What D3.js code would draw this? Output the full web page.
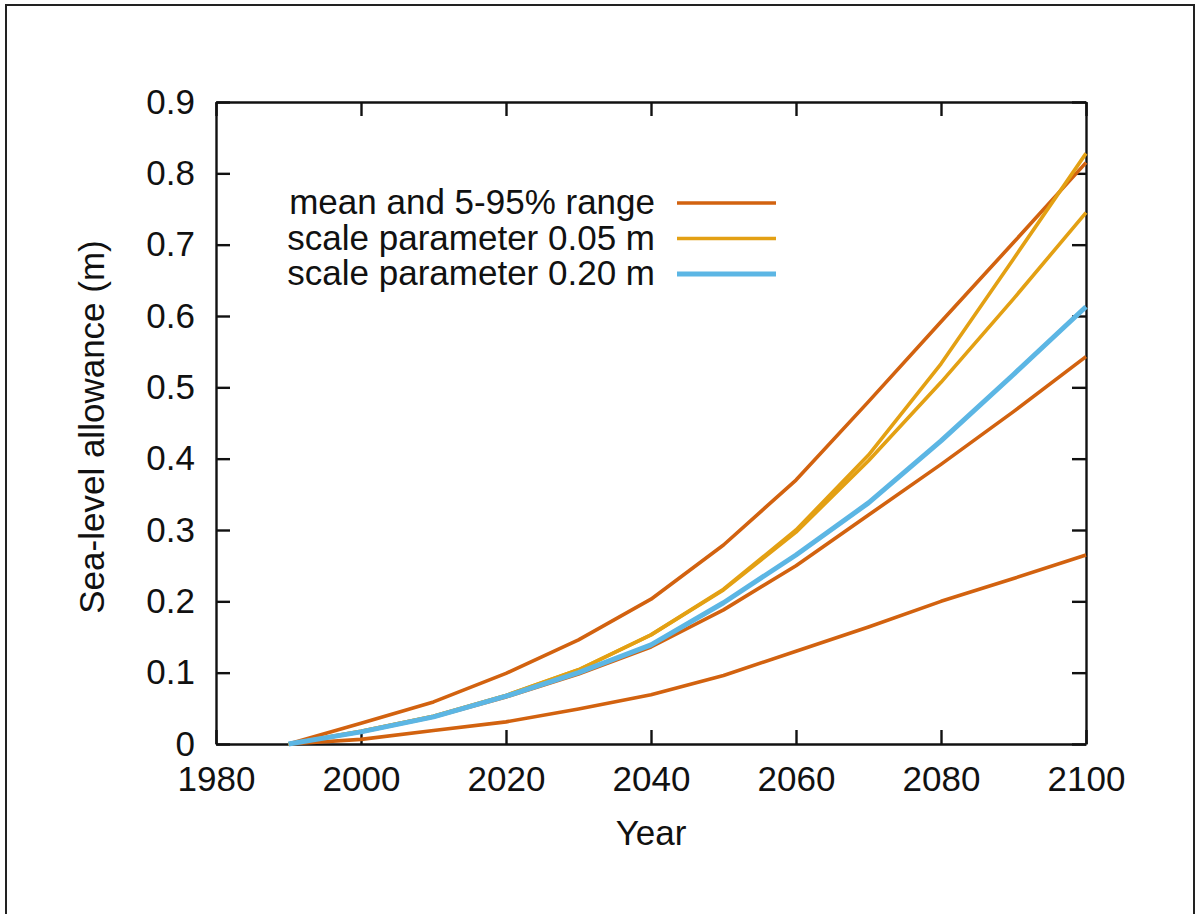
<!DOCTYPE html>
<html>
<head>
<meta charset="utf-8">
<script src="https://cdn.jsdelivr.net/npm/d3@7"></script>
<style>
  body { margin: 0; background: #fff; overflow: hidden; }
  svg text { font-family: "Liberation Sans", Arial, Helvetica, sans-serif; fill: #111; }
</style>
</head>
<body>
<div id="chart"></div>
<script>
// Years of the projections (decadal steps)
let years = [1990, 2000, 2010, 2020, 2030, 2040, 2050, 2060, 2070, 2080, 2090, 2100];

// mean and 5-95% range (m)
let meanVals  = [0, 0.017, 0.038, 0.066, 0.098, 0.136, 0.188, 0.250, 0.321, 0.392, 0.466, 0.543];
let upperVals = [0, 0.029, 0.059, 0.099, 0.146, 0.203, 0.279, 0.370, 0.480, 0.592, 0.703, 0.815];
let lowerVals = [0, 0.0065, 0.019, 0.031, 0.049, 0.069, 0.096, 0.130, 0.164, 0.200, 0.232, 0.265];

// scale parameter 0.05 m (two curves)
let scale005High = [0, 0.018, 0.039, 0.068, 0.104, 0.153, 0.217, 0.300, 0.405, 0.533, 0.680, 0.828];
let scale005Low  = [0, 0.018, 0.039, 0.068, 0.104, 0.153, 0.216, 0.297, 0.397, 0.507, 0.624, 0.745];

// scale parameter 0.20 m
let scale020 = [0, 0.017, 0.038, 0.067, 0.100, 0.139, 0.198, 0.265, 0.338, 0.425, 0.518, 0.613];

// Axis ticks
let xTicks = [1980, 2000, 2020, 2040, 2060, 2080, 2100];
let yTicks = [0, 0.1, 0.2, 0.3, 0.4, 0.5, 0.6, 0.7, 0.8, 0.9];

let legendLabels = ["mean and 5-95% range", "scale parameter 0.05 m", "scale parameter 0.20 m"];

const WIDTH = 1197, HEIGHT = 914;
const margin = {left: 216, top: 102, right: 111, bottom: 170};
const plotW = WIDTH - margin.left - margin.right;
const plotH = HEIGHT - margin.top - margin.bottom;

const ORANGE = "#d2620f", YELLOW = "#e3a013", BLUE = "#5cb6e4";

let svg = d3.select("#chart")
    .append("svg")
    .attr("width", WIDTH)
    .attr("height", HEIGHT);

// Outer frame of the figure (bottom edge runs off the picture)
svg.append("rect")
    .attr("x", 6).attr("y", 5)
    .attr("width", 1188).attr("height", 920)
    .attr("fill", "none")
    .attr("stroke", "#222")
    .attr("stroke-width", 2);

let g = svg.append("g")
    .attr("transform", `translate(${margin.left}, ${margin.top})`);

let x = d3.scaleLinear().domain([1980, 2100]).range([0, plotW]);
let y = d3.scaleLinear().domain([0, 0.9]).range([plotH, 0]);

const TICK = 14;

// Axes with inward ticks on all four sides
let xAxis = g.append("g")
    .attr("transform", `translate(0, ${plotH})`)
    .call(d3.axisBottom(x).tickValues(xTicks).tickFormat(d3.format("d"))
        .tickSizeInner(-TICK).tickSizeOuter(0).tickPadding(22));
let xAxisTop = g.append("g")
    .call(d3.axisTop(x).tickValues(xTicks).tickFormat("")
        .tickSizeInner(-TICK).tickSizeOuter(0));
let yAxis = g.append("g")
    .call(d3.axisLeft(y).tickValues(yTicks)
        .tickFormat(function(d) { return d === 0 ? "0" : d.toFixed(1); })
        .tickSizeInner(-TICK).tickSizeOuter(0).tickPadding(21));
let yAxisRight = g.append("g")
    .attr("transform", `translate(${plotW}, 0)`)
    .call(d3.axisRight(y).tickValues(yTicks).tickFormat("")
        .tickSizeInner(-TICK).tickSizeOuter(0));

[xAxis, xAxisTop, yAxis, yAxisRight].forEach(function(a) {
    a.select(".domain").attr("stroke", "#111").attr("stroke-width", 2.4);
    a.selectAll(".tick line").attr("stroke", "#111").attr("stroke-width", 2.4);
    a.selectAll(".tick text").style("font-size", "35px").attr("fill", "#111");
});

// Lines
let line = d3.line()
    .x(function(d, i) { return x(years[i]); })
    .y(function(d) { return y(d); });

let series = [
    {vals: lowerVals, color: ORANGE, w: 3.6},
    {vals: meanVals, color: ORANGE, w: 3.6},
    {vals: upperVals, color: ORANGE, w: 3.6},
    {vals: scale005Low, color: YELLOW, w: 3.6},
    {vals: scale005High, color: YELLOW, w: 3.6},
    {vals: scale020, color: BLUE, w: 5}
];

g.selectAll("path.series")
    .data(series)
    .enter()
    .append("path")
    .attr("class", "series")
    .attr("d", function(d) { return line(d.vals); })
    .attr("fill", "none")
    .attr("stroke", function(d) { return d.color; })
    .attr("stroke-width", function(d) { return d.w; })
    .attr("stroke-linejoin", "round");

// Legend
let legendColors = [ORANGE, YELLOW, BLUE];
let legendWidths = [3.6, 3.6, 5];
let legend = svg.append("g");
legendLabels.forEach(function(label, i) {
    let ly = 203 + i * 35.5;
    legend.append("text")
        .attr("x", 655)
        .attr("y", ly + 11)
        .style("text-anchor", "end")
        .style("font-size", "35px")
        .text(label);
    legend.append("line")
        .attr("x1", 677).attr("x2", 776)
        .attr("y1", ly).attr("y2", ly)
        .attr("stroke", legendColors[i])
        .attr("stroke-width", legendWidths[i]);
});

// Axis labels
svg.append("text")
    .attr("x", margin.left + plotW / 2)
    .attr("y", 845)
    .style("text-anchor", "middle")
    .style("font-size", "35px")
    .text("Year");

svg.append("text")
    .attr("transform", `translate(104, ${margin.top + plotH / 2 + 4}) rotate(-90)`)
    .style("text-anchor", "middle")
    .style("font-size", "35px")
    .text("Sea-level allowance (m)");
</script>
</body>
</html>
